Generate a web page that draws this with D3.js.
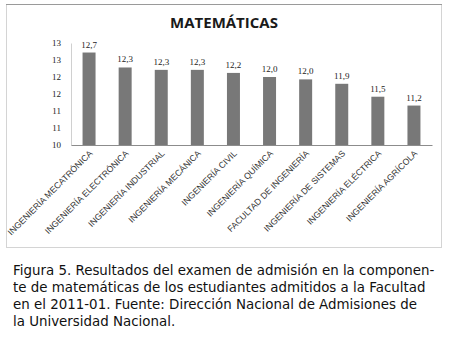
<!DOCTYPE html>
<html>
<head>
<meta charset="utf-8">
<script src="https://cdn.jsdelivr.net/npm/d3@7"></script>
<style>
  body { margin: 0; background: #fff; }
</style>
</head>
<body>
<div id="chart"></div>
<script>
// datos
var categories = ["INGENIERÍA MECATRÓNICA", "INGENIERÍA ELECTRÓNICA", "INGENIERÍA INDUSTRIAL",
  "INGENIERÍA MECÁNICA", "INGENIERÍA CIVIL", "INGENIERÍA QUÍMICA", "FACULTAD DE INGENIERÍA",
  "INGENIERÍA DE SISTEMAS", "INGENIERÍA ELÉCTRICA", "INGENIERÍA AGRÍCOLA"];
var values = [12.72, 12.28, 12.21, 12.21, 12.12, 12.0, 11.93, 11.8, 11.42, 11.16];
var valueLabels = ["12,7", "12,3", "12,3", "12,3", "12,2", "12,0", "12,0", "11,9", "11,5", "11,2"];
var yTicks = [10, 10.5, 11, 11.5, 12, 12.5, 13];
var captionLines = [
  "Figura 5. Resultados del examen de admisión en la componen-",
  "te de matemáticas de los estudiantes admitidos a la Facultad",
  "en el 2011-01. Fuente: Dirección Nacional de Admisiones de",
  "la Universidad Nacional."
];

var W = 451, H = 341;
var margin = {top: 43, right: 19, bottom: 196, left: 71},
    width = W - margin.left - margin.right,
    height = H - margin.top - margin.bottom;

var svg = d3.select("#chart")
  .append("svg")
    .attr("width", W)
    .attr("height", H);

// marco del grafico
svg.append("rect")
  .attr("x", 6.5)
  .attr("y", 4.5)
  .attr("width", 435)
  .attr("height", 243)
  .attr("fill", "none")
  .attr("stroke", "#d4d4d4");
svg.append("line")
  .attr("x1", 6).attr("x2", 442)
  .attr("y1", 4.5).attr("y2", 4.5)
  .attr("stroke", "#9a9a9a");

svg.append("text")
  .attr("x", 224)
  .attr("y", 28)
  .attr("text-anchor", "middle")
  .attr("font-family", "Open Sans")
  .attr("font-weight", "bold")
  .attr("font-size", 15)
  .attr("fill", "#1a1a1a")
  .text("MATEMÁTICAS");

var g = svg.append("g")
  .attr("transform", "translate(" + margin.left + "," + margin.top + ")");

var x = d3.scaleBand()
  .domain(categories)
  .range([0, width])
  .paddingInner(0.64)
  .paddingOuter(0.32);

var y = d3.scaleLinear()
  .domain([10, 13])
  .range([height, 0]);

// eje Y
var yAxis = g.append("g")
  .call(d3.axisLeft(y).tickValues(yTicks).tickSize(0).tickPadding(10)
    .tickFormat(function(d) { return d3.format(".0f")(d); }));
yAxis.select(".domain").attr("stroke", "#d0d0d0");
yAxis.selectAll("text")
  .attr("font-family", "Liberation Serif")
  .attr("font-size", 9)
  .attr("fill", "#222");

// barras
g.selectAll(".bar")
  .data(values)
  .enter()
  .append("rect")
    .attr("class", "bar")
    .attr("x", function(d, i) { return x(categories[i]); })
    .attr("y", function(d) { return y(d); })
    .attr("width", x.bandwidth())
    .attr("height", function(d) { return height - y(d); })
    .attr("fill", "#787878");

// etiquetas de valor
g.selectAll(".vlab")
  .data(values)
  .enter()
  .append("text")
    .attr("x", function(d, i) { return x(categories[i]) + x.bandwidth() / 2; })
    .attr("y", function(d) { return y(d) - 5; })
    .attr("text-anchor", "middle")
    .attr("font-family", "Liberation Serif")
    .attr("font-size", 9)
    .attr("fill", "#222")
    .text(function(d, i) { return valueLabels[i]; });

// eje X
var xAxis = g.append("g")
  .attr("transform", "translate(0," + height + ")")
  .call(d3.axisBottom(x).tickSize(0).tickPadding(0));
xAxis.select(".domain").attr("stroke", "#8c8c8c");
xAxis.selectAll("text")
  .attr("font-family", "Liberation Sans")
  .attr("font-size", 8.7)
  .attr("fill", "#333")
  .attr("text-anchor", "end")
  .attr("dy", 0)
  .attr("transform", "translate(4,9) rotate(-45)");

// pie de figura
svg.append("g")
  .selectAll("text")
  .data(captionLines)
  .enter()
  .append("text")
    .attr("x", 13)
    .attr("y", function(d, i) { return 275 + i * 17; })
    .attr("font-family", "DejaVu Sans")
    .attr("font-size", 13.4)
    .attr("fill", "#111")
    .text(function(d) { return d; });
</script>
</body>
</html>
